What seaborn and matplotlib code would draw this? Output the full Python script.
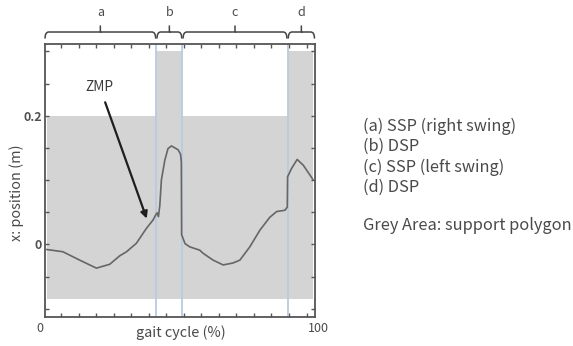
import numpy as np
import pandas as pd
import matplotlib
matplotlib.use("Agg")
import matplotlib.pyplot as plt
from matplotlib.path import Path
from matplotlib.patches import PathPatch
from matplotlib.transforms import blended_transform_factory
import seaborn as sns

# ZMP trajectory along the walking direction over one gait cycle
phase_pct = [0.0, 6.1, 12.4, 18.7, 23.7, 27.4, 30.0, 33.7, 37.5, 40.0, 41.0,
             41.5, 42.0, 42.5, 43.1, 44.4, 45.6, 46.9, 49.4, 50.3, 50.6, 50.7,
             52.0, 53.8, 57.5, 58.8, 62.5, 66.3, 70.0, 72.6, 76.3, 80.1, 83.8,
             86.4, 89.5, 90.4, 90.5, 92.0, 94.1, 96.4, 100.0]
zmp_x = [-0.008, -0.0115, -0.0245, -0.037, -0.031, -0.018, -0.0115, 0.0016,
         0.025, 0.038, 0.046, 0.049, 0.043, 0.060, 0.100, 0.131, 0.149, 0.153,
         0.147, 0.140, 0.128, 0.015, 0.001, -0.004, -0.009, -0.014, -0.0245,
         -0.032, -0.029, -0.0245, -0.004, 0.022, 0.042, 0.051, 0.053, 0.058,
         0.105, 0.118, 0.132, 0.123, 0.101]

# gait phases and the support polygon extent in each
phase_bounds = [0.0, 41.2, 51.0, 90.5, 100.0]
phase_names = ["a", "b", "c", "d"]
polygon_top = [0.2, 0.3, 0.2, 0.3]
polygon_bottom = -0.085

phase_notes = ["(a) SSP (right swing)", "(b) DSP", "(c) SSP (left swing)", "(d) DSP"]
area_note = "Grey Area: support polygon"

sns.set_style("ticks")
plt.rcParams["font.family"] = ["Noto Sans CJK JP", "DejaVu Sans"]

W, H = 573, 346
fig = plt.figure(figsize=(W / 100, H / 100), dpi=100)
ax = fig.add_axes([44.5 / W, 1 - 316.7 / H, 270.5 / W, 272.7 / H])

frame_c = "#555555"
text_c = "#4a4a4a"

# support polygon (grey) per phase
tops = polygon_top + [polygon_top[-1]]
ax.fill_between(phase_bounds, polygon_bottom, tops, step="post",
                color="#d4d4d4", lw=0, zorder=0)
for xb in phase_bounds[1:-1]:
    ax.axvline(xb, color="#b9cce3", lw=1.3, zorder=1)

df = pd.DataFrame({"phase": phase_pct, "zmp": zmp_x})
sns.lineplot(data=df, x="phase", y="zmp", ax=ax, sort=False, estimator=None,
             color="#666666", lw=1.2, zorder=3)

ax.set_xlim(-0.8, 100.8)
ax.set_ylim(-0.1125, 0.3115)

# ticks
xt = [5.5 + 6.58 * i for i in range(15)]
ax.set_xticks(xt)
ax.set_xticklabels([""] * len(xt))
yt = [-0.1, -0.05, 0.0, 0.05, 0.1, 0.15, 0.2, 0.25, 0.3]
ax.set_yticks(yt)
ax.set_yticklabels(["0" if v == 0 else ("0.2" if v == 0.2 else "") for v in yt],
                   fontsize=9, fontweight="bold", color="#505050")
ax.tick_params(direction="in", length=3, width=1, color=frame_c,
               top=True, right=True, pad=2)
for s in ax.spines.values():
    s.set_color(frame_c)
    s.set_linewidth(1.3)

ax.text(-0.0185, -0.043, "0", transform=ax.transAxes, ha="center", va="center",
        fontsize=9, color=text_c)
ax.text(1.011, -0.043, "100", transform=ax.transAxes, ha="center", va="center",
        fontsize=9, color=text_c)
ax.set_xlabel("gait cycle (%)", fontsize=10.4, color=text_c)
ax.xaxis.label.set_va("center")
ax.xaxis.set_label_coords(0.506, -0.06)
ax.set_ylabel("x: position (m)", fontsize=10.4, color=text_c)
ax.yaxis.label.set_va("center")
ax.yaxis.set_label_coords(-0.103, 0.455)

# ZMP pointer
ax.annotate("ZMP", xy=(37.6, 0.040), xytext=(19.9, 0.245),
            ha="center", va="center", fontsize=9.9, color="#3a3a3a",
            arrowprops=dict(arrowstyle="-|>", color="#1e1e1e", lw=1.6,
                            mutation_scale=10, shrinkA=4, shrinkB=0))

# phase braces above the plot
tr = blended_transform_factory(ax.transData, ax.transAxes)
y_low, y_base, y_tip, y_lab = 1.020, 1.044, 1.068, 1.117
r = 1.4
for i, name in enumerate(phase_names):
    x0 = phase_bounds[i] + (0.25 if i > 0 else -0.6)
    x1 = phase_bounds[i + 1] - (0.25 if i < 3 else -0.6)
    xm = (x0 + x1) / 2
    verts = [(x0, y_low), (x0, y_base), (x0 + r, y_base),
             (xm, y_base), (xm, y_tip), (xm, y_base),
             (x1 - r, y_base), (x1, y_base), (x1, y_low)]
    codes = [Path.MOVETO, Path.CURVE3, Path.CURVE3,
             Path.LINETO, Path.LINETO, Path.MOVETO,
             Path.LINETO, Path.CURVE3, Path.CURVE3]
    ax.add_patch(PathPatch(Path(verts, codes), transform=tr, fill=False,
                           ec="#444444", lw=1.1, clip_on=False))
    ax.text(xm, y_lab, name, transform=tr, ha="center", va="center",
            fontsize=9, color=text_c)

# phase descriptions on the right
ys = [126.7, 146.7, 167.0, 187.0]
for yy, s in zip(ys, phase_notes):
    fig.text(363 / W, 1 - yy / H, s, ha="left", va="center", fontsize=11.8, color=text_c)
fig.text(363 / W, 1 - 225 / H, area_note, ha="left", va="center", fontsize=11.8, color=text_c)

fig.savefig("out.png", dpi=100)
